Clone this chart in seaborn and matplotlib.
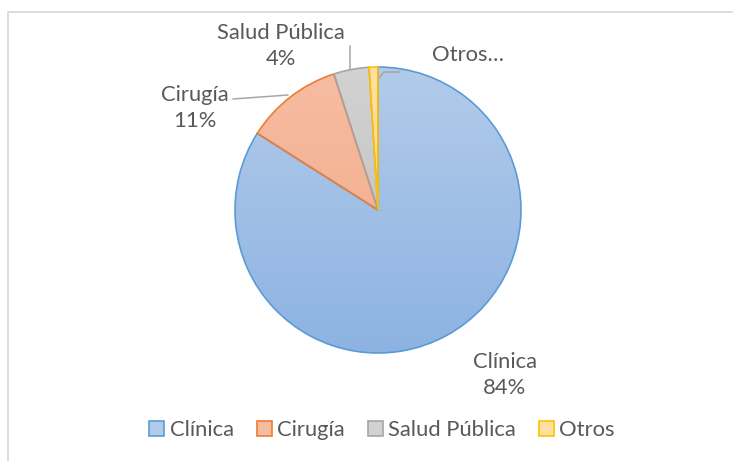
import numpy as np
import matplotlib
matplotlib.use("Agg")
import matplotlib.pyplot as plt
from matplotlib.colors import LinearSegmentedColormap
from matplotlib.patches import Patch
from matplotlib.lines import Line2D
import seaborn as sns

# data
categories = ["Clínica", "Cirugía", "Salud Pública", "Otros"]
shares = [84, 11, 4, 1]
label_texts = ["Clínica\n84%", "Cirugía\n11%", "Salud Pública\n4%", "Otros…"]

# Excel-like colours: (top of gradient, bottom of gradient, outline)
fills = [("#b2cbea", "#8db3e2"), ("#f6bca2", "#f2a986"),
         ("#d2d2d2", "#bdbdbd"), ("#ffe0a0", "#ffd272")]
edges = ["#5b9bd5", "#ed7d31", "#a5a5a5", "#ffc000"]

sns.set_theme(style="white")
plt.rcParams["font.family"] = ["Lato", "DejaVu Sans"]
text_color = "#595959"
fs = 15.8

W, H = 733, 461
fig = plt.figure(figsize=(W / 100, H / 100), dpi=100)
ax = fig.add_axes([0, 0, 1, 1])

# pixel geometry of the pie
cx, cy, r = 378, 210, 143


def px(x, y):
    return (x - cx) / r, (cy - y) / r


wedges, _ = ax.pie(shares, startangle=90, counterclock=False, radius=1,
                   colors=[f[1] for f in fills],
                   wedgeprops=dict(linewidth=1.2))

# gradient fill inside each wedge
grad = np.linspace(0, 1, 256).reshape(-1, 1)
for w, (c_top, c_bot), ec in zip(wedges, fills, edges):
    w.set_edgecolor(ec)
    w.set_facecolor("none")
    cmap = LinearSegmentedColormap.from_list("g", [c_top, c_bot])
    im = ax.imshow(grad, cmap=cmap, extent=(-1, 1, -1, 1), origin="upper",
                   aspect="auto", zorder=w.get_zorder() - 0.1)
    im.set_clip_path(w)

ax.set_xlim(-cx / r, (W - cx) / r)
ax.set_ylim(-(H - cy) / r, cy / r)
ax.set_axis_off()

# data labels
label_pos = [(505, 375), (195, 108), (281, 46), (468, 55)]
for txt, (lx, ly) in zip(label_texts, label_pos):
    ax.text(*px(lx, ly), txt, ha="center", va="center", fontsize=fs,
            color=text_color, linespacing=1.38)

# leader lines
leaders = [
    [(233, 99), (288, 95)],
    [(350, 46), (350, 69)],
    [(400, 72), (384, 72), (379, 78)],
]
for pts in leaders:
    xs, ys = zip(*[px(a, b) for a, b in pts])
    ax.add_line(Line2D(xs, ys, color="#a6a6a6", lw=1.1))

# legend
handles = [Patch(facecolor=f[0], edgecolor=e, linewidth=1.2)
           for f, e in zip(fills, edges)]
fig.legend(handles, categories, loc="center", ncol=4, frameon=False,
           bbox_to_anchor=(382 / W, 1 - 430 / H), fontsize=fs,
           handlelength=0.68, handleheight=0.68, handletextpad=0.25,
           columnspacing=1.05, labelcolor=text_color)

# chart area border
fig.add_artist(Line2D([8 / W, 8 / W, 1], [0, 1 - 12.5 / H, 1 - 12.5 / H],
                      transform=fig.transFigure, color="#d9d9d9", lw=1.3))

fig.savefig("out.png", dpi=100, facecolor="white")
